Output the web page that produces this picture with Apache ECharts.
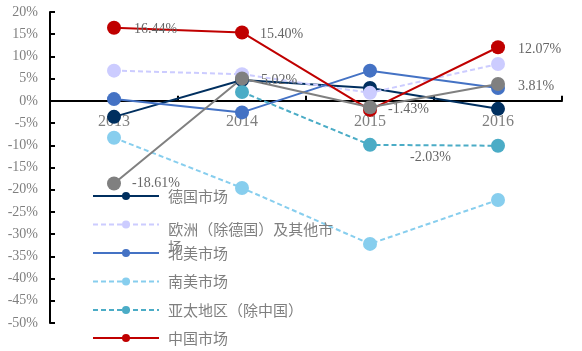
<!DOCTYPE html>
<html>
<head>
<meta charset="utf-8">
<script src="https://cdn.jsdelivr.net/npm/echarts@6/dist/echarts.min.js"></script>
<style>
  html, body { margin: 0; padding: 0; background: #fff; }
  #chart { width: 582px; height: 351px; }
</style>
</head>
<body>
<div id="chart"></div>
<script>
// Market growth rates by region, 2013-2016 (%)
const years = ['2013', '2014', '2015', '2016'];
const yTicks = { min: -50, max: 20, step: 5 };

const germany = [-3.6, 4.7, 2.9, -1.8];
const europeOther = [6.8, 6.0, 1.8, 8.3];
const northAmerica = [0.4, -2.6, 6.8, 2.9];
const southAmerica = [-8.3, -19.6, -32.2, -22.3];
const asiaPacific = [null, 2.0, -9.9, -10.1];
const china = [16.44, 15.40, -2.03, 12.07];
const overall = [-18.61, 5.02, -1.43, 3.81];

const names = {
  germany: '德国市场',
  europe: '欧洲（除德国）及其他市场',
  na: '北美市场',
  sa: '南美市场',
  apac: '亚太地区（除中国）',
  china: '中国市场',
  overall: '总体'
};

const serif = '"Liberation Serif", "DejaVu Serif", serif';
const cjk = '"Noto Sans CJK SC", sans-serif';
const gray = '#7f7f7f';

// plot area geometry, used to place the category axis on the zero line
const grid = { left: 50, right: 20, top: 12, bottom: 28 };
const plotHeight = 351 - grid.top - grid.bottom;
const zeroFromBottom = plotHeight * (0 - yTicks.min) / (yTicks.max - yTicks.min);

function lineSeries(name, data, color, dashed) {
  return {
    name: name,
    type: 'line',
    data: data,
    symbol: 'circle',
    symbolSize: 14,
    connectNulls: false,
    itemStyle: { color: color },
    lineStyle: { color: color, width: 2, type: dashed ? [5, 3] : 'solid' },
    emphasis: { disabled: true },
    z: 2
  };
}

// value labels; the 2015 China label sits below the teal line
const chinaOffsets = [[3, 2], [1, 2], [23, 47], [3, 2]];
const overallOffsets = [[1, 0], [2, 2], [1, 2], [3, 2]];
function labelled(values, offsets) {
  return values.map((v, i) => ({
    value: v,
    label: {
      show: true,
      position: 'right',
      distance: 10,
      offset: offsets[i],
      formatter: v.toFixed(2) + '%',
      color: '#666666',
      fontFamily: serif,
      fontSize: 14
    }
  }));
}

function legendBlock(top, data, extra) {
  return Object.assign({
    orient: 'vertical',
    left: 92,
    top: top,
    padding: 0,
    itemWidth: 66,
    itemHeight: 10,
    itemGap: 10.5,
    textStyle: { color: gray, fontFamily: cjk, fontSize: 15, lineHeight: 18, padding: [0, 0, 0, 4] },
    selectedMode: false,
    data: data
  }, extra || {});
}

// long legend name: first line sits level with the marker, the rest drops below
function wrapLegendName(name) {
  const head = name.slice(0, 11);
  const tail = name.slice(11);
  return '{sp| }{t|' + head + '}\n{t|' + tail + '}';
}

const option = {
  animation: false,
  backgroundColor: '#ffffff',
  grid: grid,
  legend: [
    legendBlock(187, [names.germany]),
    legendBlock(215, [names.europe], {
      formatter: wrapLegendName,
      textStyle: {
        color: gray, fontFamily: cjk, fontSize: 15, padding: [0, 0, 0, 4],
        rich: {
          sp: { fontSize: 1, lineHeight: 42 },
          t: { lineHeight: 18, fontSize: 15, fontFamily: cjk, color: gray, verticalAlign: 'bottom' }
        }
      }
    }),
    legendBlock(244, [names.na, names.sa, names.apac]),
    legendBlock(329, [names.china])
  ],
  xAxis: {
    type: 'category',
    data: years,
    boundaryGap: true,
    offset: -zeroFromBottom,
    axisLine: { onZero: false, lineStyle: { color: '#000', width: 2 } },
    axisTick: { show: true, inside: true, length: 5, lineStyle: { color: '#000', width: 2 } },
    axisLabel: { color: gray, fontFamily: serif, fontSize: 16, margin: 13 },
    splitLine: { show: false }
  },
  yAxis: {
    type: 'value',
    min: yTicks.min,
    max: yTicks.max,
    interval: yTicks.step,
    axisLine: { show: true, lineStyle: { color: '#000', width: 2 } },
    axisTick: { show: true, inside: true, length: 5, lineStyle: { color: '#000', width: 2 } },
    axisLabel: { color: gray, fontFamily: serif, fontSize: 14, margin: 12, formatter: '{value}%' },
    splitLine: { show: false }
  },
  series: [
    lineSeries(names.germany, germany, '#002F5F', false),
    lineSeries(names.europe, europeOther, '#CCCCFF', true),
    lineSeries(names.na, northAmerica, '#4472C4', false),
    lineSeries(names.sa, southAmerica, '#87CEEE', true),
    lineSeries(names.apac, asiaPacific, '#4BACC6', true),
    lineSeries(names.china, labelled(china, chinaOffsets), '#C00000', false),
    lineSeries(names.overall, labelled(overall, overallOffsets), '#808080', false)
  ]
};

const chart = echarts.init(document.getElementById('chart'), null, { renderer: 'canvas' });
chart.setOption(option);
</script>
</body>
</html>
